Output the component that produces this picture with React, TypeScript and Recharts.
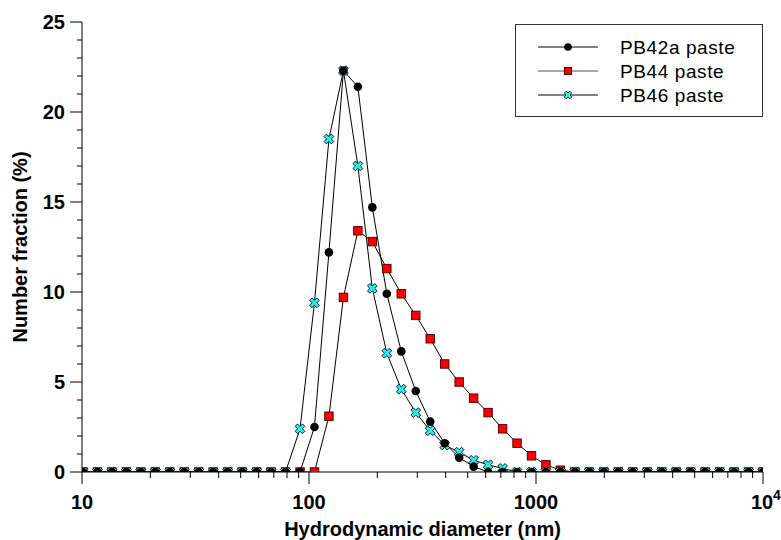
import { LineChart, Line, XAxis, YAxis, Legend } from "recharts";

// the chart is laid out in page pixels, so drop the default body margin
document.body.style.margin = "0";

// DLS size bins (nm) and number distributions (%)
const sizes = [
  10.1, 11.7, 13.54, 15.69, 18.17, 21.04, 24.36, 28.21, 32.67, 37.84, 43.82, 50.75,
  58.77, 68.06, 78.82, 91.28, 105.7, 122.4, 141.8, 164.2, 190.1, 220.2, 255.0, 295.3,
  342.0, 396.1, 458.7, 531.2, 615.1, 712.4, 825.0, 955.4, 1106, 1281, 1484, 1718,
  1990, 2305, 2669, 3091, 3580, 4145, 4801, 5560, 6439, 7456, 8635, 10000,
];
const pb42a = [
  0, 0, 0, 0, 0, 0, 0, 0, 0, 0, 0, 0, 0, 0, 0, 0, 2.5, 12.2, 22.3, 21.4, 14.7, 9.9, 6.7, 4.5,
  2.8, 1.6, 0.8, 0.3, 0, 0, 0, 0, 0, 0, 0, 0, 0, 0, 0, 0, 0, 0, 0, 0, 0, 0, 0, 0,
];
const pb44 = [
  0, 0, 0, 0, 0, 0, 0, 0, 0, 0, 0, 0, 0, 0, 0, 0, 0, 3.1, 9.7, 13.4, 12.8, 11.3, 9.9, 8.7,
  7.4, 6.0, 5.0, 4.1, 3.3, 2.4, 1.6, 0.9, 0.4, 0.1, 0, 0, 0, 0, 0, 0, 0, 0, 0, 0, 0, 0, 0, 0,
];
const pb46 = [
  0, 0, 0, 0, 0, 0, 0, 0, 0, 0, 0, 0, 0, 0, 0, 2.4, 9.4, 18.5, 22.3, 17.0, 10.2, 6.6, 4.6, 3.3,
  2.3, 1.5, 1.1, 0.65, 0.4, 0.2, 0, 0, 0, 0, 0, 0, 0, 0, 0, 0, 0, 0, 0, 0, 0, 0, 0, 0,
];

const xMajorTicks = [10, 100, 1000, 10000];
const xMajorLabels = ["10", "100", "1000", "10"]; // last one gets the "4" exponent
const xMinorSteps = [2, 3, 4, 5, 6, 7, 8, 9];
const yMajorTicks = [0, 5, 10, 15, 20, 25];

const FONT = "Arial, 'Liberation Sans', sans-serif";

const data = sizes.map((size, i) => ({
  size,
  pb42a: pb42a[i],
  pb44: pb44[i],
  pb46: pb46[i],
}));

const xTicks = [
  ...xMajorTicks,
  ...xMajorTicks.slice(0, -1).flatMap((d) => xMinorSteps.map((m) => d * m)),
].sort((a, b) => a - b);
const yTicks = Array.from({ length: 26 }, (_, i) => i);

function XTick({ x, y, payload }: any) {
  const v = payload.value;
  const idx = xMajorTicks.findIndex((t) => Math.abs(t - v) < 1e-6 * t);
  const major = idx >= 0;
  const last = idx === xMajorTicks.length - 1;
  return (
    <g>
      <line x1={x} x2={x} y1={y} y2={y + (major ? 12 : 6)} stroke="#000" />
      {major && (
        <text
          x={last ? x - 12 : x}
          y={y + 37}
          textAnchor={last ? "start" : "middle"}
          fontFamily={FONT}
          fontSize={20}
          fontWeight={700}
          fill="#000"
        >
          {xMajorLabels[idx]}
        </text>
      )}
      {last && (
        <text x={x + 10} y={y + 28} fontFamily={FONT} fontSize={14} fontWeight={700} fill="#000">
          4
        </text>
      )}
    </g>
  );
}

function YTick({ x, y, payload }: any) {
  const v = payload.value;
  const major = yMajorTicks.includes(v);
  return (
    <g>
      <line x1={x - (major ? 12 : 5)} x2={x} y1={y} y2={y} stroke="#000" />
      {major && (
        <text x={x - 17} y={y + 7} textAnchor="end" fontFamily={FONT} fontSize={20} fontWeight={700} fill="#000">
          {v}
        </text>
      )}
    </g>
  );
}

const circleDot = (p: any) =>
  p.cx == null ? null : <circle key={`c${p.index}`} cx={p.cx} cy={p.cy} r={4.3} fill="#000" />;

const squareDot = (p: any) =>
  p.cx == null ? null : (
    <rect key={`s${p.index}`} x={p.cx - 4.2} y={p.cy - 4.2} width={8.4} height={8.4} fill="#ff0000" stroke="#5a0000" strokeWidth={1} />
  );

const crossPoints = (s: number, t: number) =>
  [
    [-t, -s], [t, -s], [t, -t], [s, -t], [s, t], [t, t],
    [t, s], [-t, s], [-t, t], [-s, t], [-s, -t], [-t, -t],
  ]
    .map((p) => p.join(","))
    .join(" ");

const crossDot = (p: any) =>
  p.cx == null ? null : (
    <polygon
      key={`x${p.index}`}
      points={crossPoints(5.2, 1.7)}
      transform={`translate(${p.cx},${p.cy}) rotate(45)`}
      fill="#22f0f0"
      stroke="#000"
      strokeWidth={0.8}
    />
  );

function LegendBox() {
  const rows = [
    { name: "PB42a paste", line: "#000", marker: <circle cx={52} cy={0} r={3.8} fill="#000" /> },
    {
      name: "PB44 paste",
      line: "#888",
      marker: <rect x={48.5} y={-3.5} width={7} height={7} fill="#ff0000" stroke="#5a0000" />,
    },
    {
      name: "PB46 paste",
      line: "#000",
      marker: (
        <polygon points={crossPoints(4, 1.4)} transform="translate(52,0) rotate(45)" fill="#22f0f0" stroke="#000" strokeWidth={0.7} />
      ),
    },
  ];
  return (
    <div style={{ width: 248, height: 93, border: "1px solid #333", boxSizing: "border-box", background: "#fff" }}>
      <svg width={246} height={91} style={{ display: "block" }}>
        {rows.map((r, i) => (
          <g key={r.name} transform={`translate(0,${22 + i * 24})`}>
            <line x1={22} x2={82} y1={0} y2={0} stroke={r.line} strokeWidth={r.line === "#000" ? 1 : 1.6} />
            {r.marker}
            <text x={104} y={7} fontFamily={FONT} fontSize={19} letterSpacing={0.6} fill="#000">
              {r.name}
            </text>
          </g>
        ))}
      </svg>
    </div>
  );
}

export default function App() {
  return (
    <div style={{ width: 781, height: 540 }}>
      <LineChart width={781} height={540} data={data} margin={{ top: 22, right: 18, left: 0, bottom: 0 }}>
        <XAxis
          dataKey="size"
          type="number"
          scale="log"
          domain={[10, 10000]}
          allowDataOverflow
          ticks={xTicks}
          interval={0}
          tickLine={false}
          tickSize={0}
          tickMargin={0}
          axisLine={{ stroke: "#000" }}
          height={68}
          tick={<XTick />}
          label={{
            value: "Hydrodynamic diameter (nm)",
            position: "insideBottom",
            offset: 4,
            style: { fontFamily: FONT, fontSize: 20, fontWeight: 700, fill: "#000" },
          }}
        />
        <YAxis
          type="number"
          domain={[0, 25]}
          allowDataOverflow
          ticks={yTicks}
          interval={0}
          tickLine={false}
          tickSize={0}
          tickMargin={0}
          axisLine={{ stroke: "#000" }}
          width={82}
          tick={<YTick />}
          label={{
            value: "Number fraction (%)",
            angle: -90,
            position: "insideLeft",
            offset: 20,
            style: { textAnchor: "middle", fontFamily: FONT, fontSize: 20, fontWeight: 700, fill: "#000" },
          }}
        />
        <Legend
          layout="vertical"
          align="center"
          verticalAlign="middle"
          content={<LegendBox />}
          wrapperStyle={{ left: 515, top: 24, width: 248, height: 93 }}
        />
        <Line dataKey="pb44" stroke="#000" strokeWidth={1} dot={squareDot} activeDot={false} isAnimationActive={false} />
        <Line dataKey="pb46" stroke="#000" strokeWidth={1} dot={crossDot} activeDot={false} isAnimationActive={false} />
        <Line dataKey="pb42a" stroke="#000" strokeWidth={1} dot={circleDot} activeDot={false} isAnimationActive={false} />
      </LineChart>
    </div>
  );
}
